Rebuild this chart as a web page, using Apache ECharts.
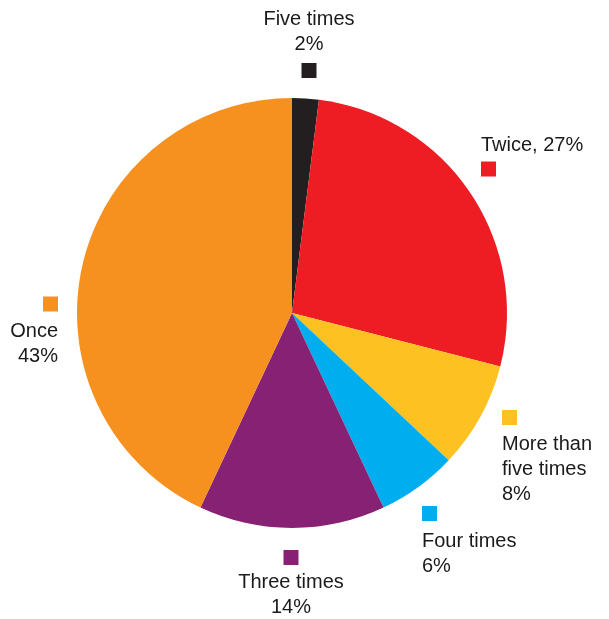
<!DOCTYPE html>
<html><head><meta charset="utf-8">
<script src="https://cdn.jsdelivr.net/npm/echarts@6/dist/echarts.min.js"></script>
<style>html,body{margin:0;padding:0;background:#fff}#c{width:609px;height:619px}</style>
</head><body><div id="c"></div>
<script>
// ---- data ----
const categories = ['Five times', 'Twice', 'More than\nfive times', 'Four times', 'Three times', 'Once'];
const shares = [2, 27, 8, 6, 14, 43];
const sliceColors = ['#231f20', '#ee1d24', '#fdc221', '#00aeef', '#872174', '#f6901e'];

// ---- label styling / placement (not data) ----
const labelStyle = [
  { x: 309, y: 7, align: 'center', squareFirst: false, inline: false, sqLH: 27 },
  { x: 481, y: 133, align: 'left', squareFirst: false, inline: true, sqLH: 22 },
  { x: 502, y: 403, align: 'left', squareFirst: true, inline: false, sqLH: 29 },
  { x: 422, y: 498, align: 'left', squareFirst: true, inline: false, sqLH: 31 },
  { x: 291, y: 545, align: 'center', squareFirst: true, inline: false, sqLH: 25 },
  { x: 58, y: 289, align: 'right', squareFirst: true, inline: false, sqLH: 30 }
];

const rich = { t: { fontSize: 20, lineHeight: 25, color: '#1a1a1a', fontFamily: 'Liberation Sans' } };
labelStyle.forEach((s, i) => {
  rich['sq' + i] = { width: 15, height: 15, backgroundColor: sliceColors[i], lineHeight: s.sqLH, fontSize: 1 };
});

const data = categories.map((name, i) => ({
  name: name,
  value: shares[i],
  itemStyle: { color: sliceColors[i] }
}));

const chart = echarts.init(document.getElementById('c'), null, { renderer: 'canvas' });
chart.setOption({
  backgroundColor: '#ffffff',
  animation: false,
  series: [{
    type: 'pie',
    center: [292, 313],
    radius: [0, 215],
    startAngle: 90,
    clockwise: true,
    avoidLabelOverlap: false,
    silent: true,
    data: data,
    labelLine: { show: false },
    label: {
      show: true,
      position: 'outside',
      overflow: 'none',
      fontFamily: 'Liberation Sans',
      fontSize: 20,
      color: '#1a1a1a',
      rich: rich,
      formatter: function (p) {
        const s = labelStyle[p.dataIndex];
        const nameLines = p.name.split('\n');
        let textLines;
        if (s.inline) {
          textLines = [nameLines.join(' ') + ', ' + p.value + '%'];
        } else {
          textLines = nameLines.concat([p.value + '%']);
        }
        const txt = textLines.map(l => '{t|' + l + '}');
        const sq = '{sq' + p.dataIndex + '| }';
        return (s.squareFirst ? [sq].concat(txt) : txt.concat([sq])).join('\n');
      }
    },
    labelLayout: function (params) {
      const s = labelStyle[params.dataIndex];
      return { x: s.x, y: s.y, align: s.align, verticalAlign: 'top' };
    }
  }]
});
</script>
</body></html>
